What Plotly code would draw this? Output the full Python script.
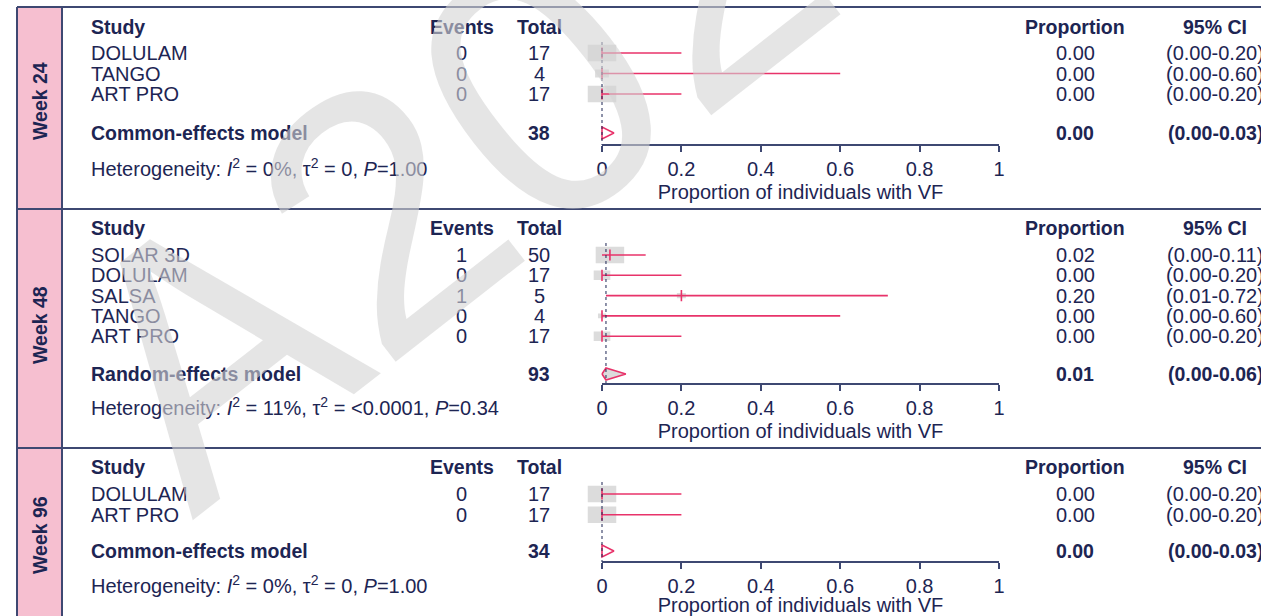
import math
import plotly.graph_objects as go

# ---- data ----------------------------------------------------------------
panel_labels = ["Week 24", "Week 48", "Week 96"]
studies = [
    ["DOLULAM", "TANGO", "ART PRO"],
    ["SOLAR 3D", "DOLULAM", "SALSA", "TANGO", "ART PRO"],
    ["DOLULAM", "ART PRO"],
]
events = [[0, 0, 0], [1, 0, 1, 0, 0], [0, 0]]
totals = [[17, 4, 17], [50, 17, 5, 4, 17], [17, 17]]
proportion = [[0.00, 0.00, 0.00], [0.02, 0.00, 0.20, 0.00, 0.00], [0.00, 0.00]]
ci_low = [[0.00, 0.00, 0.00], [0.00, 0.00, 0.01, 0.00, 0.00], [0.00, 0.00]]
ci_high = [[0.20, 0.60, 0.20], [0.11, 0.20, 0.72, 0.60, 0.20], [0.20, 0.20]]

model_names = ["Common-effects model", "Random-effects model", "Common-effects model"]
model_total = [38, 93, 34]
model_prop = [0.00, 0.01, 0.00]
model_low = [0.00, 0.00, 0.00]
model_high = [0.03, 0.06, 0.03]

het_i2 = ["0%", "11%", "0%"]
het_tau2 = ["0", "<0.0001", "0"]
het_p = ["1.00", "0.34", "1.00"]

tick_vals = [0, 0.2, 0.4, 0.6, 0.8, 1]
tick_text = ["0", "0.2", "0.4", "0.6", "0.8", "1"]
axis_title = "Proportion of individuals with VF"

# ---- styling / layout --------------------------------------------------------
W, H = 1261, 616
FONT = "Arial, Liberation Sans, sans-serif"
NAVY = "#1D2553"
RULE = "#3E4872"
PINK = "#E8336A"
STRIP = "#F6BFD0"
BOX = "#DCDCDC"
FS = 20
FSB = 19.5

PLOT_X0, PLOT_X1 = 602, 999          # pixel extent of the 0..1 scale
PAD = 0.05                            # room either side of the scale for boxes
PX_PER_UNIT = PLOT_X1 - PLOT_X0
COL_STUDY = 89
COL_EVENTS = 462
COL_TOTAL = 539
COL_PROP = 1075
COL_CI = 1215

panel_top = [7, 209, 448]
strip_mid = [101, 325, 535]
geo = [
    dict(header=27, row0=53, step=20.5, model=133, axis=145),
    dict(header=228, row0=255, step=20.3, model=374, axis=384),
    dict(header=467, row0=494, step=20.8, model=551, axis=562),
]
diamond_fill = ["white", BOX, "white"]
BOX_W, BOX_H = 28.5, 16.5           # pixel size of the largest study box


def px(x):
    return x / W


fig = go.Figure()
annotations = []
shapes = []


def text(x, y, s, anchor="left", bold=False, color=NAVY):
    size = FS
    if bold:
        s = "<b>" + s + "</b>"
        size = FSB
    annotations.append(dict(
        x=px(x), y=y, xref="paper", yref="y", text=s, showarrow=False,
        xanchor=anchor, yanchor="middle", align=anchor,
        font=dict(family=FONT, size=size, color=color),
    ))


# frame: pink strip, vertical rules, horizontal separators
shapes.append(dict(type="rect", xref="paper", yref="y", x0=px(17), x1=px(62),
                   y0=panel_top[0], y1=H, fillcolor=STRIP, line_width=0, layer="below"))
for x in (17, 62):
    shapes.append(dict(type="line", xref="paper", yref="y", x0=px(x), x1=px(x),
                       y0=panel_top[0], y1=H, line=dict(color=RULE, width=2)))
for y in panel_top:
    shapes.append(dict(type="line", xref="paper", yref="y", x0=px(17), x1=1,
                       y0=y, y1=y, line=dict(color=RULE, width=2)))

layout_axes = {}
for p in range(3):
    g = geo[p]
    xa = "x" if p == 0 else f"x{p + 1}"
    xa_key = "xaxis" if p == 0 else f"xaxis{p + 1}"
    n = len(studies[p])
    rows = [g["row0"] + i * g["step"] for i in range(n)]
    nmax = max(totals[p])

    # panel label in the strip
    annotations.append(dict(
        x=px(40), y=strip_mid[p], xref="paper", yref="y", text="<b>" + panel_labels[p] + "</b>",
        textangle=-90, showarrow=False, xanchor="center", yanchor="middle",
        font=dict(family=FONT, size=FSB, color=NAVY),
    ))

    # headers
    text(COL_STUDY, g["header"], "Study", bold=True)
    text(COL_EVENTS, g["header"], "Events", anchor="center", bold=True)
    text(COL_TOTAL, g["header"], "Total", anchor="center", bold=True)
    text(COL_PROP, g["header"], "Proportion", anchor="center", bold=True)
    text(COL_CI, g["header"], "95% CI", anchor="center", bold=True)

    # study rows
    for i in range(n):
        y = rows[i]
        text(COL_STUDY, y, studies[p][i])
        text(COL_EVENTS, y, str(events[p][i]), anchor="center")
        text(COL_TOTAL, y, str(totals[p][i]), anchor="center")
        text(COL_PROP, y, f"{proportion[p][i]:.2f}", anchor="center")
        text(COL_CI, y, f"({ci_low[p][i]:.2f}-{ci_high[p][i]:.2f})", anchor="center")

        # weight box (area proportional to study size)
        s = math.sqrt(totals[p][i] / nmax)
        hw = BOX_W * s / 2 / PX_PER_UNIT
        hh = BOX_H * s / 2
        shapes.append(dict(type="rect", xref=xa, yref="y",
                           x0=proportion[p][i] - hw, x1=proportion[p][i] + hw,
                           y0=y - hh, y1=y + hh, fillcolor=BOX, line_width=0, layer="below"))

        # confidence interval and point estimate
        fig.add_trace(go.Scatter(
            x=[ci_low[p][i], ci_high[p][i]], y=[y, y], xaxis=xa, yaxis="y",
            mode="lines", line=dict(color=PINK, width=1.6), hoverinfo="skip", showlegend=False))
        fig.add_trace(go.Scatter(
            x=[proportion[p][i]], y=[y], xaxis=xa, yaxis="y", mode="markers",
            marker=dict(symbol="line-ns", size=8, line=dict(color=PINK, width=1.6)),
            hoverinfo="skip", showlegend=False))

    # pooled estimate
    ym = g["model"]
    text(COL_STUDY, ym, model_names[p], bold=True)
    text(COL_TOTAL, ym, str(model_total[p]), anchor="center", bold=True)
    text(COL_PROP, ym, f"{model_prop[p]:.2f}", anchor="center", bold=True)
    text(COL_CI, ym, f"({model_low[p]:.2f}-{model_high[p]:.2f})", anchor="center", bold=True)
    dh = 6
    fig.add_trace(go.Scatter(
        x=[model_low[p], model_prop[p], model_high[p], model_prop[p], model_low[p]],
        y=[ym, ym - dh, ym, ym + dh, ym], xaxis=xa, yaxis="y",
        mode="lines", fill="toself", fillcolor=diamond_fill[p],
        line=dict(color=PINK, width=1.6), hoverinfo="skip", showlegend=False))

    # reference line at pooled estimate
    fig.add_trace(go.Scatter(
        x=[model_prop[p], model_prop[p]], y=[g["header"] + 15, g["axis"]], xaxis=xa, yaxis="y",
        mode="lines", line=dict(color=NAVY, width=1, dash="dot"), hoverinfo="skip", showlegend=False))

    # axis baseline spanning only the 0..1 scale
    fig.add_trace(go.Scatter(
        x=[tick_vals[0], tick_vals[-1]], y=[g["axis"], g["axis"]], xaxis=xa, yaxis="y",
        mode="lines", line=dict(color=RULE, width=2), hoverinfo="skip", showlegend=False))

    # heterogeneity statement
    het = (f"Heterogeneity: <i>I</i><sup>2</sup> = {het_i2[p]}, "
           f"τ<sup>2</sup> = {het_tau2[p]}, <i>P</i>={het_p[p]}")
    text(COL_STUDY, g["axis"] + 22, het)

    ax = dict(
        domain=[px(PLOT_X0 - PAD * PX_PER_UNIT), px(PLOT_X1 + PAD * PX_PER_UNIT)],
        range=[-PAD, 1 + PAD], anchor="free",
        position=1 - g["axis"] / H, showline=False,
        ticks="outside", ticklen=6, tickwidth=2, tickcolor=RULE,
        tickvals=tick_vals, ticktext=tick_text, showgrid=False, zeroline=False,
        tickfont=dict(family=FONT, size=FS, color=NAVY),
        title=dict(text=axis_title, font=dict(family=FONT, size=FS, color=NAVY), standoff=5),
    )
    if p > 0:
        ax["overlaying"] = "x"
    layout_axes[xa_key] = ax

# conference watermark
annotations.append(dict(
    x=px(525), y=102, xref="paper", yref="y", text="A2022", showarrow=False,
    textangle=-38, xanchor="center", yanchor="middle",
    font=dict(family=FONT, size=360, color="rgba(211,211,211,0.6)"),
))

fig.update_layout(
    width=W, height=H, margin=dict(l=0, r=0, t=0, b=0),
    paper_bgcolor="white", plot_bgcolor="rgba(0,0,0,0)",
    yaxis=dict(domain=[0, 1], range=[H, 0], visible=False, fixedrange=True),
    annotations=annotations, shapes=shapes, showlegend=False,
    **layout_axes,
)

fig.write_html("out.html")
